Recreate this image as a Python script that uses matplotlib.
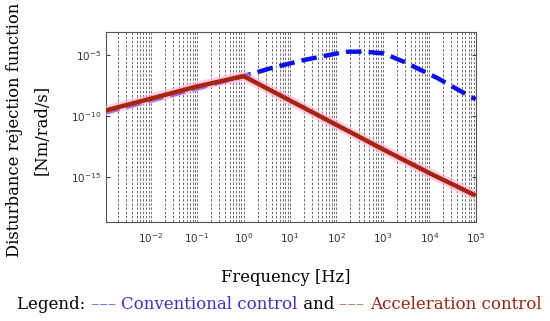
import numpy as np
import matplotlib
matplotlib.use("Agg")
import matplotlib.pyplot as plt
from matplotlib.offsetbox import TextArea, HPacker, AnchoredOffsetbox

# log10 of frequency [Hz] and log10 of response
conv_logf = [-3.0, -2.0, -1.0, 0.0, 0.58, 1.3, 2.0, 2.23, 2.6, 3.02, 3.45, 4.17, 4.89, 5.0]
conv_logy = [-9.75, -8.75, -7.75, -6.75, -6.11, -5.43, -4.9, -4.75, -4.74, -4.89, -5.57, -6.9, -8.44, -8.65]

acc_logf = [-3.0, -2.0, -1.0, 0.0, 1.0, 2.0, 3.0, 4.0, 5.0]
acc_logy = [-9.6, -8.6, -7.6, -6.75, -8.75, -10.75, -12.75, -14.7, -16.55]

xticks = [1e-2, 1e-1, 1e0, 1e1, 1e2, 1e3, 1e4, 1e5]
yticks = [1e-15, 1e-10, 1e-5]

conv_f = 10.0 ** np.array(conv_logf)
conv_y = 10.0 ** np.array(conv_logy)
acc_f = 10.0 ** np.array(acc_logf)
acc_y = 10.0 ** np.array(acc_logy)

fig = plt.figure(figsize=(5.5, 3.21), dpi=100)
ax = fig.add_axes([0.193, 0.309, 0.672, 0.591])

ax.plot(conv_f, conv_y, color="#0a10f0", lw=3.2, ls=(0, (3.5, 1.6)), zorder=3)
ax.plot(acc_f, acc_y, color="#ffb0d8", lw=7, alpha=0.6, solid_capstyle="butt", zorder=4)
ax.plot(acc_f, acc_y, color="#a8240c", lw=3.2, solid_capstyle="butt", zorder=5)

ax.set_xscale("log")
ax.set_yscale("log")
ax.set_xlim(1.1e-3, 1e5)
ax.set_ylim(10 ** -18.7, 10 ** -3.14)
ax.set_xticks(xticks)
ax.set_yticks(yticks)
ax.yaxis.set_minor_locator(matplotlib.ticker.NullLocator())
ax.xaxis.set_minor_locator(matplotlib.ticker.LogLocator(base=10, subs=np.arange(2, 10), numticks=20))
ax.xaxis.set_minor_formatter(matplotlib.ticker.NullFormatter())
ax.grid(which="both", axis="x", color="#222222", ls=(0, (3, 2)), lw=0.6, alpha=0.75)
ax.tick_params(which="both", direction="in", top=False, right=True, labelsize=7.5,
               labelcolor="#333333", length=3, color="#444444")
ax.tick_params(axis="x", which="both", length=0, pad=7)
for s in ax.spines.values():
    s.set_color("#555555")
    s.set_linewidth(0.8)

serif = "DejaVu Serif"
fig.text(0.027, 0.595, "Disturbance rejection function", rotation=90, ha="center",
         va="center", fontsize=11.8, family=serif)
fig.text(0.077, 0.595, "[Nm/rad/s]", rotation=90, ha="center", va="center",
         fontsize=11.8, family=serif)
fig.text(0.52, 0.134, "Frequency [Hz]", ha="center", va="center", fontsize=11.8, family=serif)

pieces = [("Legend: ", "black"), ("\u2013\u2013\u2013 ", "#5060f0"),
          ("Conventional control", "#3a2fd6"), (" and ", "black"),
          ("\u2013\u2013\u2013 ", "#b86a48"), ("Acceleration control", "#a0200f")]
areas = [TextArea(t, textprops=dict(color=c, fontsize=12, family=serif)) for t, c in pieces]
box = HPacker(children=areas, align="baseline", pad=0, sep=0)
anchored = AnchoredOffsetbox(loc="center", child=box, pad=0, frameon=False,
                             bbox_to_anchor=(0.508, 0.05), bbox_transform=fig.transFigure)
fig.add_artist(anchored)

fig.savefig("out.png", dpi=100)
